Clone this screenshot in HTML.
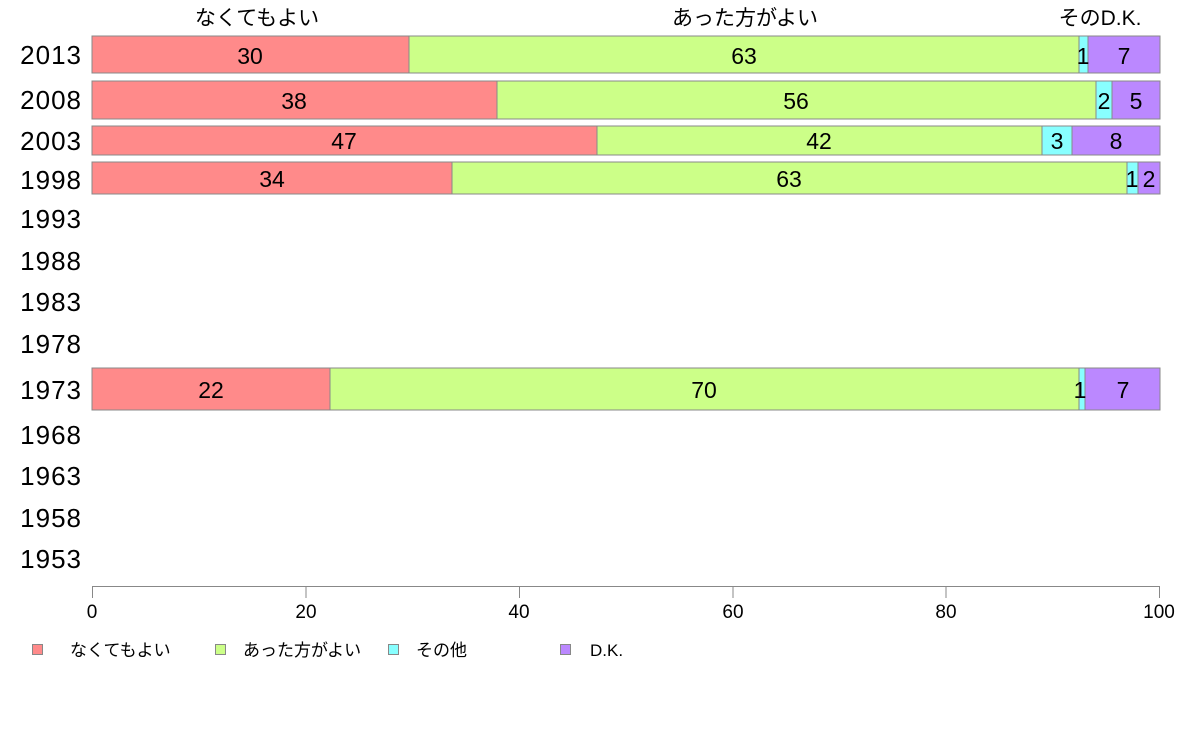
<!DOCTYPE html>
<html><head><meta charset="utf-8"><style>body{margin:0;background:#fff}svg{display:block}</style></head><body>
<svg width="1188" height="736" xmlns="http://www.w3.org/2000/svg" font-family="Liberation Sans, Noto Sans CJK JP, sans-serif">
<g font-size="21" fill="#000" text-anchor="middle">
<text x="257" y="25">なくてもよい</text>
<text x="745" y="25">あった方がよい</text>
<text x="1100" y="25">そのD.K.</text>
</g>
<g font-size="26" text-anchor="end" fill="#000" letter-spacing="1">
<text x="82" y="64">2013</text><text x="82" y="109">2008</text><text x="82" y="150">2003</text><text x="82" y="189">1998</text>
<text x="82" y="228">1993</text><text x="82" y="270">1988</text><text x="82" y="311">1983</text><text x="82" y="353">1978</text>
<text x="82" y="399">1973</text><text x="82" y="444">1968</text><text x="82" y="485">1963</text><text x="82" y="527">1958</text><text x="82" y="568">1953</text>
</g>
<g stroke="#888" stroke-width="1">
<rect x="92" y="36" width="317" height="37" fill="#ff8a8a"/><rect x="409" y="36" width="670" height="37" fill="#ccff88"/><rect x="1079" y="36" width="9" height="37" fill="#88ffff"/><rect x="1088" y="36" width="72" height="37" fill="#bb88ff"/>
<rect x="92" y="81" width="405" height="38" fill="#ff8a8a"/><rect x="497" y="81" width="599" height="38" fill="#ccff88"/><rect x="1096" y="81" width="16" height="38" fill="#88ffff"/><rect x="1112" y="81" width="48" height="38" fill="#bb88ff"/>
<rect x="92" y="126" width="505" height="29" fill="#ff8a8a"/><rect x="597" y="126" width="445" height="29" fill="#ccff88"/><rect x="1042" y="126" width="30" height="29" fill="#88ffff"/><rect x="1072" y="126" width="88" height="29" fill="#bb88ff"/>
<rect x="92" y="162" width="360" height="32" fill="#ff8a8a"/><rect x="452" y="162" width="675" height="32" fill="#ccff88"/><rect x="1127" y="162" width="11" height="32" fill="#88ffff"/><rect x="1138" y="162" width="22" height="32" fill="#bb88ff"/>
<rect x="92" y="368" width="238" height="42" fill="#ff8a8a"/><rect x="330" y="368" width="749" height="42" fill="#ccff88"/><rect x="1079" y="368" width="6" height="42" fill="#88ffff"/><rect x="1085" y="368" width="75" height="42" fill="#bb88ff"/>
</g>
<g font-size="23" text-anchor="middle" fill="#000">
<text x="250" y="64">30</text><text x="744" y="64">63</text><text x="1083" y="64">1</text><text x="1124" y="64">7</text>
<text x="294" y="109">38</text><text x="796" y="109">56</text><text x="1104" y="109">2</text><text x="1136" y="109">5</text>
<text x="344" y="149">47</text><text x="819" y="149">42</text><text x="1057" y="149">3</text><text x="1116" y="149">8</text>
<text x="272" y="187">34</text><text x="789" y="187">63</text><text x="1132" y="187">1</text><text x="1149" y="187">2</text>
<text x="211" y="398">22</text><text x="704" y="398">70</text><text x="1080" y="398">1</text><text x="1123" y="398">7</text>
</g>
<g stroke="#888" fill="none">
<line x1="92" y1="586.5" x2="1160" y2="586.5"/>
<line x1="92.5" y1="586" x2="92.5" y2="598"/><line x1="306" y1="586" x2="306" y2="598"/><line x1="519.5" y1="586" x2="519.5" y2="598"/><line x1="733" y1="586" x2="733" y2="598"/><line x1="946" y1="586" x2="946" y2="598"/><line x1="1159.5" y1="586" x2="1159.5" y2="598"/>
</g>
<g font-size="19" text-anchor="middle" fill="#000">
<text x="92" y="618">0</text><text x="306" y="618">20</text><text x="519" y="618">40</text><text x="733" y="618">60</text><text x="946" y="618">80</text><text x="1159" y="618">100</text>
</g>
<g stroke="#888">
<rect x="32.5" y="644.5" width="10" height="10" fill="#ff8a8a"/><rect x="215.5" y="644.5" width="10" height="10" fill="#ccff88"/><rect x="388.5" y="644.5" width="10" height="10" fill="#88ffff"/><rect x="560.5" y="644.5" width="10" height="10" fill="#bb88ff"/>
</g>
<g font-size="17" fill="#000">
<text x="70" y="656">なくてもよい</text><text x="243" y="656">あった方がよい</text><text x="416" y="656">その他</text><text x="590" y="656">D.K.</text>
</g>
</svg>
</body></html>
